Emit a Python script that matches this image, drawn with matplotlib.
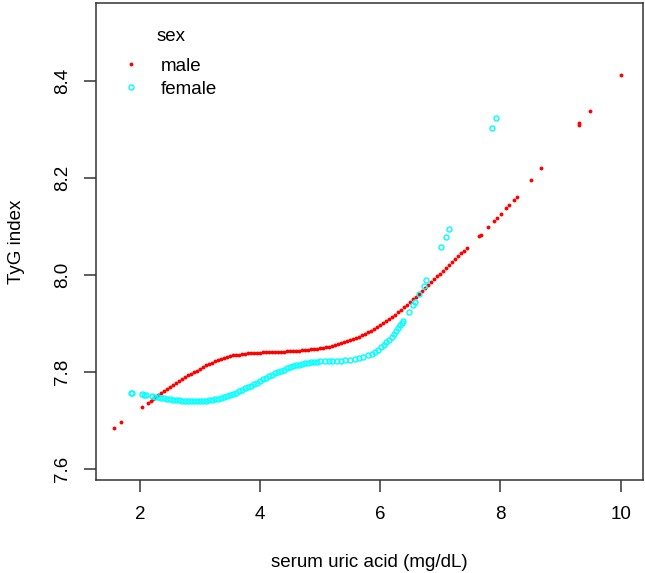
import matplotlib
matplotlib.use("Agg")
import matplotlib.pyplot as plt
from matplotlib.lines import Line2D

plt.rcParams['font.family'] = ['Liberation Sans', 'DejaVu Sans']

# serum uric acid (x) and fitted TyG index (y)
male_x = [1.565, 1.693, 2.04, 2.13, 2.18, 2.22,
          2.25, 2.30, 2.35, 2.40, 2.45, 2.50, 2.55, 2.60, 2.65, 2.70,
          2.75, 2.80, 2.85, 2.90, 2.95, 3.00, 3.05, 3.10, 3.15, 3.20,
          3.25, 3.30, 3.35, 3.40, 3.45, 3.50, 3.55, 3.60, 3.65, 3.70,
          3.75, 3.80, 3.85, 3.90, 3.95, 4.00, 4.05, 4.10, 4.15, 4.20,
          4.25, 4.30, 4.35, 4.40, 4.45, 4.50, 4.55, 4.60, 4.65, 4.70,
          4.75, 4.80, 4.85, 4.90, 4.95, 5.00, 5.05, 5.10, 5.15, 5.20,
          5.25, 5.30, 5.35, 5.40, 5.45, 5.50, 5.55, 5.60, 5.65, 5.70,
          5.75, 5.80, 5.85, 5.90, 5.95, 6.00, 6.05, 6.10, 6.15, 6.20,
          6.25, 6.30, 6.35, 6.40, 6.45, 6.50, 6.55, 6.60, 6.65, 6.70,
          6.75, 6.80, 6.85, 6.90, 6.95, 7.00, 7.05, 7.10, 7.15, 7.20,
          7.25, 7.30, 7.35, 7.40, 7.45,
          7.65, 7.67, 7.80, 7.89, 7.94, 8.01, 8.09, 8.14, 8.22, 8.27,
          8.51, 8.68, 9.30, 9.31, 9.49, 10.0]
male_y = [7.685, 7.697, 7.727, 7.736, 7.740, 7.745,
          7.748, 7.752, 7.757, 7.761, 7.765, 7.770, 7.774, 7.778, 7.782, 7.786,
          7.789, 7.793, 7.796, 7.800, 7.803, 7.807, 7.810, 7.814, 7.817, 7.819,
          7.822, 7.824, 7.827, 7.829, 7.831, 7.832, 7.834, 7.835, 7.836, 7.837,
          7.838, 7.839, 7.839, 7.840, 7.840, 7.840, 7.841, 7.841, 7.841, 7.841,
          7.842, 7.842, 7.842, 7.842, 7.843, 7.843, 7.843, 7.844, 7.844, 7.845,
          7.845, 7.846, 7.847, 7.847, 7.848, 7.849, 7.850, 7.851, 7.852, 7.854,
          7.855, 7.857, 7.859, 7.861, 7.863, 7.865, 7.868, 7.870, 7.873, 7.876,
          7.879, 7.882, 7.885, 7.889, 7.892, 7.896, 7.900, 7.905, 7.909, 7.914,
          7.918, 7.923, 7.928, 7.933, 7.939, 7.944, 7.950, 7.955, 7.961, 7.967,
          7.973, 7.979, 7.985, 7.991, 7.997, 8.003, 8.009, 8.015, 8.021, 8.027,
          8.033, 8.039, 8.045, 8.050, 8.055,
          8.080, 8.083, 8.099, 8.112, 8.118, 8.126, 8.138, 8.144, 8.154, 8.161,
          8.196, 8.221, 8.310, 8.313, 8.338, 8.413]

female_x = [1.855, 1.87, 2.03, 2.07, 2.10, 2.20,
            2.25, 2.30, 2.35, 2.40, 2.45, 2.50, 2.55, 2.60, 2.65, 2.70,
            2.75, 2.80, 2.85, 2.90, 2.95, 3.00, 3.05, 3.10, 3.15, 3.20,
            3.25, 3.30, 3.35, 3.40, 3.45, 3.50, 3.55, 3.60, 3.65, 3.70,
            3.75, 3.80, 3.85, 3.90, 3.95, 4.00, 4.05, 4.10, 4.15, 4.20,
            4.25, 4.30, 4.35, 4.40, 4.45, 4.50, 4.55, 4.60, 4.65, 4.70,
            4.75, 4.80, 4.85, 4.90, 4.95, 5.00,
            5.08, 5.15, 5.20, 5.28, 5.35, 5.42, 5.50, 5.58, 5.65, 5.72,
            5.80, 5.86, 5.92, 5.97, 6.02, 6.06, 6.10, 6.14, 6.19, 6.23,
            6.27, 6.30, 6.33, 6.36, 6.38, 6.48, 6.55, 6.58, 6.64, 6.72,
            6.76, 7.01, 7.09, 7.14, 7.86, 7.93]
female_y = [7.757, 7.757, 7.754, 7.753, 7.753, 7.750,
            7.749, 7.748, 7.747, 7.746, 7.745, 7.744, 7.743, 7.742, 7.742, 7.741,
            7.741, 7.741, 7.740, 7.740, 7.740, 7.740, 7.740, 7.741, 7.742, 7.743,
            7.744, 7.745, 7.747, 7.748, 7.750, 7.752, 7.754, 7.757, 7.760, 7.763,
            7.766, 7.769, 7.772, 7.775, 7.778, 7.781, 7.785, 7.788, 7.791, 7.794,
            7.797, 7.800, 7.803, 7.805, 7.808, 7.810, 7.812, 7.814, 7.815, 7.817,
            7.818, 7.819, 7.820, 7.821, 7.821, 7.822,
            7.822, 7.822, 7.823, 7.823, 7.823, 7.824, 7.825, 7.827, 7.829, 7.831,
            7.834, 7.837, 7.841, 7.845, 7.851, 7.856, 7.861, 7.866, 7.873, 7.879,
            7.885, 7.890, 7.897, 7.902, 7.906, 7.923, 7.938, 7.945, 7.960, 7.978,
            7.990, 8.058, 8.078, 8.095, 8.304, 8.324]

x_ticks = [2, 4, 6, 8, 10]
y_ticks = [7.6, 7.8, 8.0, 8.2, 8.4]

male_style = dict(linestyle='none', marker='o', markersize=2.8,
                  color='#ff0000', markeredgewidth=0)
female_style = dict(linestyle='none', marker='o', markersize=3.6,
                    markerfacecolor='none', markeredgecolor='#00ffff',
                    markeredgewidth=1.0)

fig = plt.figure(figsize=(6.45, 5.73), dpi=100)
ax = fig.add_axes([0.1496, 0.1623, 0.8473, 0.8325])

ax.plot(male_x, male_y, **male_style)
ax.plot(female_x, female_y, **female_style)

ax.set_xlim(1.280, 10.371)
ax.set_ylim(7.5773, 8.5608)
ax.set_xticks(x_ticks)
ax.set_yticks(y_ticks)
ax.set_xticklabels([str(t) for t in x_ticks])
ax.set_yticklabels([f"{t:.1f}" for t in y_ticks])

for s in ax.spines.values():
    s.set_color('#333333')
    s.set_linewidth(1.1)
ax.tick_params(direction='out', length=8.5, width=1.1, color='#333333',
               labelsize=13.5, pad=10)
ax.tick_params(axis='y', labelrotation=90)
plt.setp(ax.get_yticklabels(), va='center')

ax.set_xlabel('serum uric acid (mg/dL)', fontsize=13.5, va='center')
ax.xaxis.set_label_coords(0.5, -0.172)
ax.set_ylabel('TyG index', fontsize=13.5, va='center')
ax.yaxis.set_label_coords(-0.147, 0.5)

# legend: title drawn separately to get R-like spacing
ax.text(0.1363, 0.9287, 'sex', transform=ax.transAxes, fontsize=13.5,
        ha='center', va='center')
handles = [Line2D([], [], **male_style), Line2D([], [], **female_style)]
ax.legend(handles, ['male', 'female'], loc='center left',
          bbox_to_anchor=(0.032, 0.8431), borderaxespad=0, frameon=False,
          fontsize=13.5, handlelength=1.0, handletextpad=1.1,
          labelspacing=0.3)

fig.savefig('out.png', dpi=100)
